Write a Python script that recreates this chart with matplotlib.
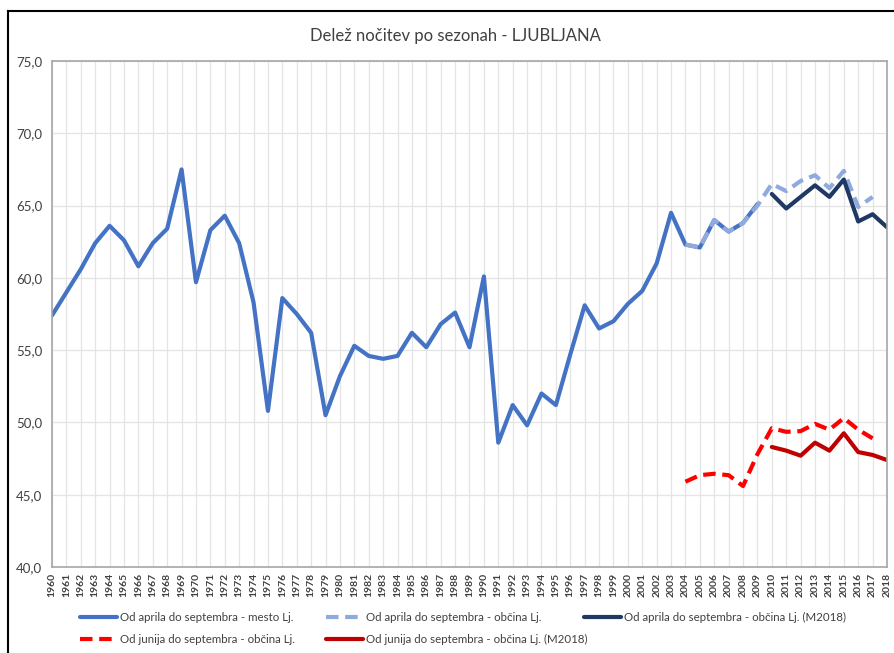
import numpy as np
import matplotlib.pyplot as plt
from matplotlib.lines import Line2D

plt.rcParams['font.family'] = ['Lato', 'DejaVu Sans']

# Od aprila do septembra - mesto Lj. (1960-2009)
years_mesto = list(range(1960, 2010))
apr_sep_mesto = [57.4, 59.0, 60.6, 62.4, 63.6, 62.6, 60.8, 62.4, 63.4, 67.5,
                 59.7, 63.3, 64.3, 62.4, 58.3, 50.8, 58.6, 57.5, 56.2, 50.5,
                 53.2, 55.3, 54.6, 54.4, 54.6, 56.2, 55.2, 56.8, 57.6, 55.2,
                 60.1, 48.6, 51.2, 49.8, 52.0, 51.2, 54.7, 58.1, 56.5, 57.0,
                 58.2, 59.1, 61.0, 64.5, 62.3, 62.1, 64.0, 63.2, 63.8, 65.1]

# občina Lj. (2004-2017)
years_obcina = list(range(2004, 2018))
apr_sep_obcina = [62.3, 62.1, 64.0, 63.2, 63.8, 65.0, 66.5, 66.0, 66.7, 67.1,
                  66.2, 67.4, 64.9, 65.6]
jun_sep_obcina = [45.9, 46.35, 46.45, 46.35, 45.6, 47.8, 49.6, 49.35, 49.4, 49.9,
                  49.5, 50.3, 49.5, 48.9]

# občina Lj. (M2018), 2010-2018
years_m2018 = list(range(2010, 2019))
apr_sep_m2018 = [65.8, 64.8, 65.6, 66.4, 65.6, 66.8, 63.9, 64.4, 63.5]
jun_sep_m2018 = [48.3, 48.05, 47.7, 48.6, 48.05, 49.25, 47.95, 47.75, 47.4]

labels = ['Od aprila do septembra - mesto Lj.',
          'Od aprila do septembra - občina Lj.',
          'Od aprila do septembra - občina Lj. (M2018)',
          'Od junija do septembra - občina Lj.',
          'Od junija do septembra - občina Lj. (M2018)']

W, H = 894, 653
fig = plt.figure(figsize=(W / 100, H / 100), dpi=100)
ax = fig.add_axes([52 / W, 1 - 567 / H, 835 / W, 506 / H])

lw = 3.0
dash = (0, (3, 1.6))
l1, = ax.plot(years_mesto, apr_sep_mesto, color='#4472C4', lw=lw, solid_capstyle='round')
l2, = ax.plot(years_obcina, apr_sep_obcina, color='#8FAADC', lw=lw, linestyle=dash)
l3, = ax.plot(years_m2018, apr_sep_m2018, color='#203864', lw=lw, solid_capstyle='round')
l4, = ax.plot(years_obcina, jun_sep_obcina, color='#FF0000', lw=lw, linestyle=dash)
l5, = ax.plot(years_m2018, jun_sep_m2018, color='#C00000', lw=lw, solid_capstyle='round')

ax.set_xlim(1960, 2018)
ax.set_ylim(40, 75)
ax.set_xticks(range(1960, 2019))
ax.set_xticklabels([str(y) for y in range(1960, 2019)], rotation=90,
                   fontsize=7.5, fontweight='bold', color='#404040')
yt = np.arange(40, 76, 5)
ax.set_yticks(yt)
ax.set_yticklabels([f'{v:.1f}'.replace('.', ',') for v in yt], fontsize=9.5, color='#404040')
ax.tick_params(length=0)
ax.tick_params(axis='x', pad=4)
ax.tick_params(axis='y', pad=7)
ax.grid(True, color='#E4E4E4', lw=0.9)
ax.set_axisbelow(True)
for s in ax.spines.values():
    s.set_color('#A6A6A6')
    s.set_linewidth(1.2)

fig.text(455 / W, 1 - 36 / H, 'Delež nočitev po sezonah - LJUBLJANA',
         ha='center', va='center', fontsize=12, color='#404040')

# legend: three equal-width columns, like Excel
cols = [([l1, l4], [labels[0], labels[3]], 80),
        ([l2, l5], [labels[1], labels[4]], 326),
        ([l3], [labels[2]], 584)]
for hs, ls, x0 in cols:
    leg = fig.legend(hs, ls, loc='upper left', bbox_to_anchor=(x0 / W, 1 - 612 / H),
                     frameon=False, fontsize=8.3, handlelength=3.2, handletextpad=0.25,
                     labelspacing=0.95, borderpad=0, borderaxespad=0, labelcolor='#404040')

# outer chart border
fig.add_artist(Line2D([8 / W, 1], [1 - 11 / H, 1 - 11 / H], color='black', lw=1.5,
                      transform=fig.transFigure))
fig.add_artist(Line2D([8 / W, 8 / W], [1 - 11 / H, 0], color='black', lw=1.5,
                      transform=fig.transFigure))

fig.savefig('out.png', dpi=100)
